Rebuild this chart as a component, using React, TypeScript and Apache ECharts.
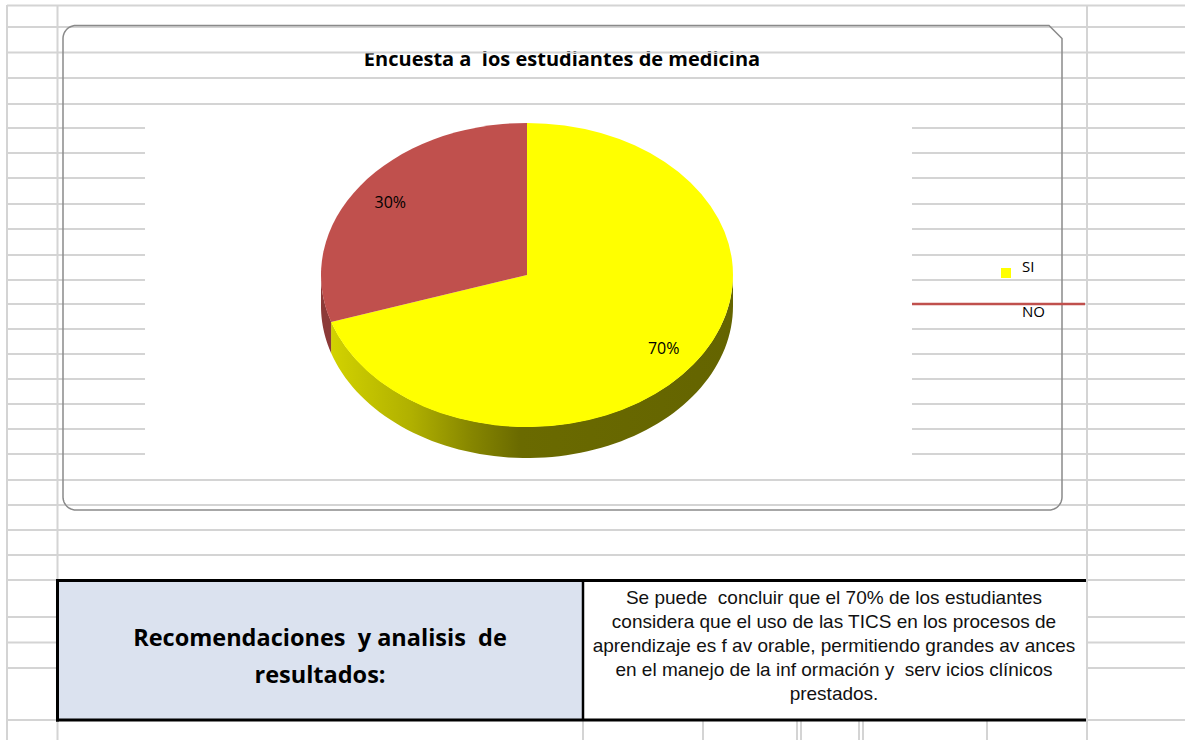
import React, { useEffect, useRef } from 'react';
import * as echarts from 'echarts';

// ---- data ----
const categories = ['SI', 'NO'];
const values = [70, 30];
const chartTitle = 'Encuesta a  los estudiantes de medicina';
const headerLines = ['Recomendaciones  y analisis  de', 'resultados:'];
const analysisLines = [
  'Se puede  concluir que el 70% de los estudiantes',
  'considera que el uso de las TICS en los procesos de',
  'aprendizaje es f av orable, permitiendo grandes av ances',
  'en el manejo de la inf ormación y  serv icios clínicos',
  'prestados.',
];

// ---- layout / style ----
const W = 1185;
const H = 740;
const GRID = '#d4d4d4';
const PIE = { cx: 527, cy: 275, rx: 206, ry: 152, depth: 31 };
const BOX = { x1: 63, y1: 25.5, x2: 1062, y2: 510, r: 13, chamfer: 13 };
const topColors = ['#ffff00', '#c0504d'];
const sideColors = [
  new echarts.graphic.LinearGradient(0, 0, 1, 0, [
    { offset: 0, color: '#d2d200' },
    { offset: 0.2, color: '#b0b000' },
    { offset: 0.35, color: '#868600' },
    { offset: 0.47, color: '#6a6a00' },
    { offset: 1, color: '#646400' },
  ]),
  '#8c3a38',
];
const hLinesFull = [5.5, 27, 52.5, 78, 104, 128, 153, 178, 204, 229, 255, 280, 304, 329, 354, 379, 404, 429, 454, 480, 505, 530, 555, 580, 617, 642.5, 668, 720];
const vLinesFull = [7, 57.5, 1087];
const vLinesShort = [583, 703, 797, 801, 859, 863, 987];

const total = values.reduce((a, b) => a + b, 0);

function renderItem(params: any, api: any) {
  const i = params.dataIndex;
  const v = api.value(0);
  let before = 0;
  for (let k = 0; k < i; k++) before += values[k];
  const s = -Math.PI / 2 + (before / total) * 2 * Math.PI;
  const e = s + (v / total) * 2 * Math.PI;
  const { cx, cy, rx, ry, depth } = PIE;
  const children: any[] = [];
  for (const off of [-2 * Math.PI, 0, 2 * Math.PI]) {
    const a0 = Math.max(s, off);
    const a1 = Math.min(e, off + Math.PI);
    if (a1 > a0) {
      const pts: number[][] = [];
      const n = 80;
      for (let j = 0; j <= n; j++) {
        const t = a0 + ((a1 - a0) * j) / n;
        pts.push([cx + rx * Math.cos(t), cy + ry * Math.sin(t) - 0.5]);
      }
      for (let j = n; j >= 0; j--) {
        const t = a0 + ((a1 - a0) * j) / n;
        pts.push([cx + rx * Math.cos(t), cy + ry * Math.sin(t) + depth]);
      }
      children.push({ type: 'polygon', shape: { points: pts }, style: { fill: sideColors[i] } });
    }
  }
  children.push({
    type: 'group',
    x: cx,
    y: cy,
    scaleY: ry / rx,
    children: [
      {
        type: 'sector',
        shape: { cx: 0, cy: 0, r: rx, r0: 0, startAngle: s, endAngle: e, clockwise: true },
        style: { fill: topColors[i] },
      },
    ],
  });
  const m = (s + e) / 2;
  children.push({
    type: 'text',
    x: cx + rx * 0.82 * Math.cos(m),
    y: cy + ry * 0.82 * Math.sin(m),
    style: {
      text: Math.round((v / total) * 100) + '%',
      fontFamily: 'Open Sans',
      fontSize: 16,
      fill: '#000',
      align: 'center',
      verticalAlign: 'middle',
    },
  });
  return { type: 'group', children };
}

function arc(cx: number, cy: number, r: number, a0: number, a1: number) {
  const pts: number[][] = [];
  for (let j = 0; j <= 12; j++) {
    const t = a0 + ((a1 - a0) * j) / 12;
    pts.push([cx + r * Math.cos(t), cy + r * Math.sin(t)]);
  }
  return pts;
}

function boxOutline() {
  const { x1, y1, x2, y2, r, chamfer } = BOX;
  return [
    [x1 + r, y1],
    [x2 - chamfer, y1],
    [x2, y1 + chamfer],
    ...arc(x2 - r, y2 - r, r, 0, Math.PI / 2),
    ...arc(x1 + r, y2 - r, r, Math.PI / 2, Math.PI),
    ...arc(x1 + r, y1 + r, r, Math.PI, (3 * Math.PI) / 2),
  ];
}

function buildGraphics() {
  const els: any[] = [];
  // title (under grid lines)
  els.push({
    type: 'text', z: 0, x: 562, y: 58.5,
    style: { text: chartTitle, fontFamily: 'Open Sans', fontWeight: 'bold', fontSize: 20, fill: '#000', align: 'center', verticalAlign: 'middle' },
  });
  hLinesFull.forEach((y) => {
    els.push({ type: 'line', z: 1, shape: { x1: 7, y1: y, x2: W, y2: y }, style: { stroke: GRID, lineWidth: 2 } });
  });
  vLinesFull.forEach((x) => {
    els.push({ type: 'line', z: 1, shape: { x1: x, y1: 5, x2: x, y2: H }, style: { stroke: GRID, lineWidth: 2 } });
  });
  vLinesShort.forEach((x) => {
    els.push({ type: 'line', z: 1, shape: { x1: x, y1: 721, x2: x, y2: H }, style: { stroke: GRID, lineWidth: 2 } });
  });
  // chart border
  els.push({
    type: 'polygon', z: 2, shape: { points: boxOutline() },
    style: { fill: 'none', stroke: '#8a8a8a', lineWidth: 1.5 },
  });
  // plot area
  els.push({ type: 'rect', z: 3, shape: { x: 145, y: 112, width: 767, height: 356 }, style: { fill: '#ffffff' } });
  // legend
  categories.forEach((c, i) => {
    if (i === 0) {
      els.push({ type: 'rect', z: 6, shape: { x: 1001, y: 268, width: 10, height: 10 }, style: { fill: topColors[i] } });
    } else {
      els.push({ type: 'line', z: 6, shape: { x1: 912, y1: 304, x2: 1085, y2: 304 }, style: { stroke: topColors[i], lineWidth: 2.5 } });
    }
    els.push({
      type: 'text', z: 6, x: 1022, y: i === 0 ? 266 : 311,
      style: { text: c, fontFamily: 'Open Sans', fontSize: 15, fill: '#000', align: 'left', verticalAlign: 'middle' },
    });
  });
  // table
  els.push({ type: 'rect', z: 3, shape: { x: 57.5, y: 580.5, width: 525.5, height: 139.5 }, style: { fill: '#dbe2ef' } });
  els.push({ type: 'rect', z: 3, shape: { x: 583, y: 580.5, width: 503, height: 139.5 }, style: { fill: '#ffffff' } });
  els.push({ type: 'line', z: 4, shape: { x1: 56, y1: 580.5, x2: 1086, y2: 580.5 }, style: { stroke: '#000', lineWidth: 3 } });
  els.push({ type: 'line', z: 4, shape: { x1: 56, y1: 720, x2: 1086, y2: 720 }, style: { stroke: '#000', lineWidth: 3 } });
  els.push({ type: 'line', z: 4, shape: { x1: 57.5, y1: 579, x2: 57.5, y2: 721.5 }, style: { stroke: '#000', lineWidth: 3 } });
  els.push({ type: 'line', z: 4, shape: { x1: 583, y1: 580, x2: 583, y2: 721 }, style: { stroke: '#000', lineWidth: 2.5 } });
  els.push({
    type: 'text', z: 5, x: 320, y: 655,
    style: { text: headerLines.join('\n'), fontFamily: 'Open Sans', fontWeight: 'bold', fontSize: 23.5, lineHeight: 37, fill: '#000', align: 'center', verticalAlign: 'middle' },
  });
  els.push({
    type: 'text', z: 5, x: 834, y: 645,
    style: { text: analysisLines.join('\n'), fontFamily: 'Liberation Sans', fontSize: 19, lineHeight: 24, fill: '#111', align: 'center', verticalAlign: 'middle' },
  });
  return els;
}

export default function App() {
  const ref = useRef<HTMLDivElement>(null);
  useEffect(() => {
    document.body.style.margin = '0';
    if (!ref.current) return;
    const chart = echarts.init(ref.current, null, { renderer: 'svg' });
    chart.setOption({
      animation: false,
      backgroundColor: '#ffffff',
      graphic: { elements: buildGraphics() },
      series: [
        {
          type: 'custom',
          coordinateSystem: 'none',
          z: 5,
          renderItem,
          data: categories.map((c, i) => ({ name: c, value: [values[i]] })),
        },
      ],
    });
    return () => chart.dispose();
  }, []);
  return <div ref={ref} style={{ width: W, height: H }} />;
}
